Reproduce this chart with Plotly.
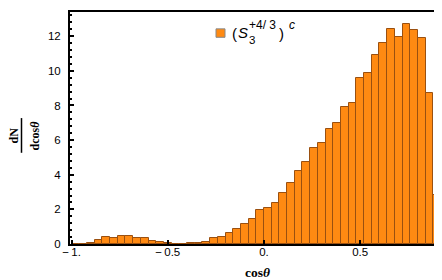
import plotly.graph_objects as go

# histogram bin centres (bin width 0.04, from -1.00 to 0.92)
bin_centers = [-0.98, -0.94, -0.90, -0.86, -0.82, -0.78, -0.74, -0.70, -0.66, -0.62,
               -0.58, -0.54, -0.50, -0.46, -0.42, -0.38, -0.34, -0.30, -0.26, -0.22,
               -0.18, -0.14, -0.10, -0.06, -0.02, 0.02, 0.06, 0.10, 0.14, 0.18,
               0.22, 0.26, 0.30, 0.34, 0.38, 0.42, 0.46, 0.50, 0.54, 0.58,
               0.62, 0.66, 0.70, 0.74, 0.78, 0.82, 0.86, 0.90]
bin_width = 0.04
counts = [0.0, 0.0, 0.08, 0.25, 0.42, 0.37, 0.48, 0.48, 0.37, 0.37,
          0.20, 0.14, 0.08, 0.0, 0.0, 0.08, 0.08, 0.14, 0.33, 0.38,
          0.61, 0.84, 1.13, 1.47, 1.98, 2.10, 2.38, 2.97, 3.52, 4.20,
          4.73, 5.54, 5.82, 6.64, 6.99, 7.94, 8.17, 9.60, 9.90, 10.89,
          11.62, 12.42, 11.96, 12.70, 12.35, 11.90, 8.75, 2.81]

x_tick_vals = [-1.0, -0.5, 0.0, 0.5]
x_tick_text = ["\u2212\u20091.", "\u2212\u20090.5", "0.", "0.5"]
y_tick_vals = [0, 2, 4, 6, 8, 10, 12]

FILL = "#FF8A12"
EDGE = "#9A5010"

W, H = 442, 280
L, R, T, B = 62, 434, 2, 236


def px(x):
    return (x - L) / (R - L)


def py(y):
    return (B - y) / (B - T)


fig = go.Figure()
fig.add_trace(go.Bar(x=bin_centers, y=counts, width=bin_width,
                     marker=dict(color=FILL, line=dict(color=EDGE, width=1)),
                     showlegend=False, hoverinfo="skip"))

fig.update_layout(
    width=W, height=H,
    margin=dict(l=L, r=W - R, t=T, b=H - B),
    paper_bgcolor="white", plot_bgcolor="white",
    bargap=0,
    font=dict(family="Liberation Sans, Arial", size=11.5, color="black"),
)
fig.update_xaxes(range=[-1.008, 0.925], showgrid=False, zeroline=False,
                 showline=True, mirror=True, linecolor="black", linewidth=2,
                 tickvals=x_tick_vals, ticktext=x_tick_text,
                 ticks="inside", ticklen=4, tickwidth=2, tickcolor="black",
                 ticklabelstandoff=-4)
fig.update_yaxes(range=[0, 13.4], showgrid=False, zeroline=False,
                 showline=True, mirror=True, linecolor="black", linewidth=2,
                 tickvals=y_tick_vals,
                 ticks="inside", ticklen=4, tickwidth=2, tickcolor="black",
                 ticklabelstandoff=5,
                 minor=dict(dtick=0.4, ticks="inside", ticklen=2, tickwidth=1.5,
                            tickcolor="black"))

# legend swatch
fig.add_shape(type="rect", xref="paper", yref="paper",
              x0=px(208), x1=px(217), y0=py(27.5), y1=py(19),
              fillcolor=FILL, line=dict(color="#888888", width=1))

ann = []
sans = "Liberation Sans, Arial"
serif = "Liberation Serif, Times New Roman"


def add(text, x, y, size, family=sans, xanchor="left", angle=0):
    ann.append(dict(text=text, x=px(x), y=py(y), xref="paper", yref="paper",
                    xanchor=xanchor, yanchor="middle", showarrow=False,
                    textangle=angle, borderpad=0,
                    font=dict(size=size, family=family, color="black")))


add("(", 223, 23.5, 15)
add("<i>S</i>", 229, 22.5, 15)
add("3", 240, 30, 11.5)
add("+4/ 3", 240, 15.5, 12)
add(")", 270, 23.5, 15)
add("<i>c</i>", 280, 15, 12)

# y-axis fraction label
add("<b>dN</b>", 6, 126.5, 12, serif, "center", -90)
add("<b>dcos<i>\u03b8</i></b>", 26.5, 127, 12, serif, "center", -90)
fig.add_shape(type="line", xref="paper", yref="paper",
              x0=px(13.5), x1=px(13.5), y0=py(109), y1=py(144),
              line=dict(color="black", width=1.5))

# x-axis label
add("<b>cos<i>\u03b8</i></b>", 249, 265, 13.5, serif, "center")

fig.update_layout(annotations=ann)
fig.write_html("out.html")
